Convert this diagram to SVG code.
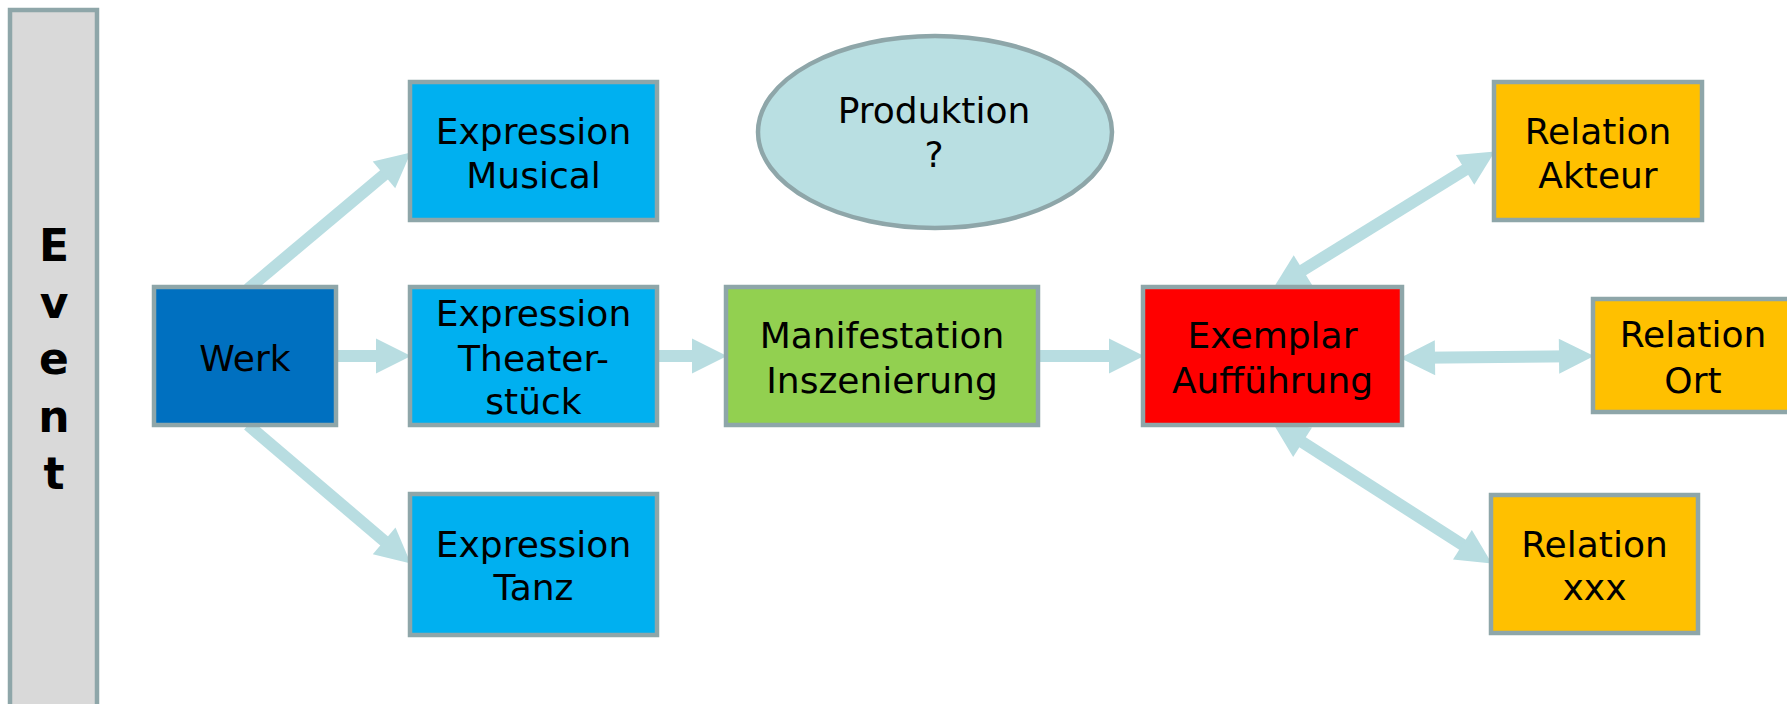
<svg xmlns="http://www.w3.org/2000/svg" width="1787" height="704" viewBox="0 0 1787 704">
<defs>
<style>
.box{stroke:#8ea6a9;stroke-width:4.5}
.t{font-family:"DejaVu Sans","Liberation Sans",sans-serif;font-size:36px;fill:#000;text-anchor:middle}
.ev{font-family:"DejaVu Sans","Liberation Sans",sans-serif;font-size:44px;font-weight:bold;fill:#000;text-anchor:middle}
.c{stroke:#b8dde1;stroke-width:12;fill:none}
</style>
<marker id="ah" markerUnits="userSpaceOnUse" markerWidth="40" markerHeight="40" viewBox="0 -20 36 40" refX="14" refY="0" orient="auto-start-reverse">
<path d="M0,-17.5 L35,0 L0,17.5 z" fill="#b8dde1"/>
</marker>
</defs>
<rect width="1787" height="704" fill="#fff"/>
<g id="event">
<rect class="box" x="10" y="10" width="87" height="720" fill="#d9d9d9"/>
<text class="ev" x="54" y="261">E</text>
<text class="ev" x="54" y="318">v</text>
<text class="ev" x="54" y="374">e</text>
<text class="ev" x="54" y="432">n</text>
<text class="ev" x="54" y="489">t</text>
</g>
<g id="connectors">
<line class="c" x1="248" y1="289" x2="394.7" y2="165.9" marker-end="url(#ah)"/>
<line class="c" x1="336" y1="356" x2="390" y2="356" marker-end="url(#ah)"/>
<line class="c" x1="248" y1="425" x2="394.8" y2="550" marker-end="url(#ah)"/>
<line class="c" x1="657" y1="356" x2="706" y2="356" marker-end="url(#ah)"/>
<line class="c" x1="1038" y1="356" x2="1123" y2="356" marker-end="url(#ah)"/>
<line class="c" x1="1291" y1="277.5" x2="1477" y2="162.5" marker-start="url(#ah)" marker-end="url(#ah)"/>
<line class="c" x1="1421" y1="357.8" x2="1573" y2="356.2" marker-start="url(#ah)" marker-end="url(#ah)"/>
<line class="c" x1="1290.8" y1="434.8" x2="1474.2" y2="552.2" marker-start="url(#ah)" marker-end="url(#ah)"/>
</g>
<g id="werk">
<rect class="box" x="154" y="287" width="182" height="138" fill="#0070c0"/>
<text class="t" x="245" y="370.5">Werk</text>
</g>
<g id="expr-musical">
<rect class="box" x="410" y="82" width="247" height="138" fill="#00b0f0"/>
<text class="t" x="533.5" y="144">Expression</text>
<text class="t" x="533.5" y="187.5">Musical</text>
</g>
<g id="expr-theater">
<rect class="box" x="410" y="287" width="247" height="138" fill="#00b0f0"/>
<text class="t" x="533.5" y="326">Expression</text>
<text class="t" x="533.5" y="370.5">Theater-</text>
<text class="t" x="533.5" y="414">stück</text>
</g>
<g id="expr-tanz">
<rect class="box" x="410" y="494" width="247" height="141" fill="#00b0f0"/>
<text class="t" x="533.5" y="557">Expression</text>
<text class="t" x="533.5" y="600">Tanz</text>
</g>
<g id="produktion">
<ellipse class="box" cx="935" cy="132" rx="177" ry="96" fill="#b9dfe2"/>
<text class="t" x="934" y="123">Produktion</text>
<text class="t" x="934" y="167">?</text>
</g>
<g id="manifestation">
<rect class="box" x="726" y="287" width="312" height="138" fill="#92d050"/>
<text class="t" x="882" y="348">Manifestation</text>
<text class="t" x="882" y="393">Inszenierung</text>
</g>
<g id="exemplar">
<rect class="box" x="1143" y="287" width="259" height="138" fill="#ff0000"/>
<text class="t" x="1272.5" y="348">Exemplar</text>
<text class="t" x="1272.5" y="393">Aufführung</text>
</g>
<g id="rel-akteur">
<rect class="box" x="1494" y="82" width="208" height="138" fill="#ffc000"/>
<text class="t" x="1598" y="144">Relation</text>
<text class="t" x="1598" y="187.5">Akteur</text>
</g>
<g id="rel-ort">
<rect class="box" x="1593" y="299" width="200" height="113" fill="#ffc000"/>
<text class="t" x="1693" y="347">Relation</text>
<text class="t" x="1693" y="393">Ort</text>
</g>
<g id="rel-xxx">
<rect class="box" x="1491" y="495" width="207" height="138" fill="#ffc000"/>
<text class="t" x="1594.5" y="557">Relation</text>
<text class="t" x="1594.5" y="600">xxx</text>
</g>
</svg>
